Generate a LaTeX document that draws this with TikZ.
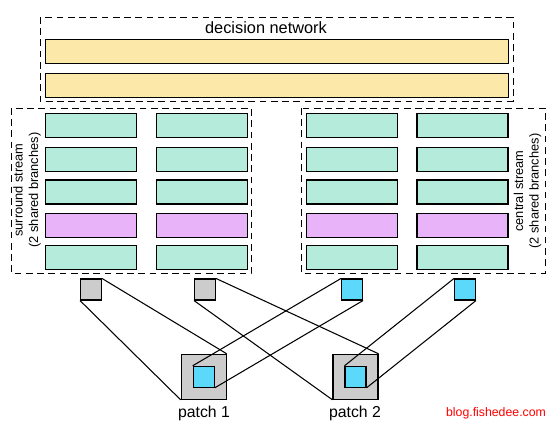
\documentclass[tikz,border=0pt]{standalone}
\usepackage{fontspec}
\setmainfont{Liberation Sans}
\definecolor{fcyellow}{HTML}{FCE8A8}
\definecolor{convgreen}{HTML}{B4EBDB}
\definecolor{convpink}{HTML}{E9B3F9}
\definecolor{patchblue}{HTML}{5CD8FB}
\definecolor{patchgray}{HTML}{CCCCCC}
\tikzset{
  bar/.style={draw, line width=0.6pt, fill=convgreen, minimum width=1.82cm, minimum height=0.48cm, inner sep=0pt},
  pinkbar/.style={bar, fill=convpink},
  fcbar/.style={bar, fill=fcyellow, minimum width=9.28cm},
  group/.style={draw, line width=0.5pt, dash pattern=on 3.8pt off 2.6pt},
  graysq/.style={draw, line width=0.6pt, fill=patchgray, minimum size=0.42cm, inner sep=0pt},
  bluesq/.style={graysq, fill=patchblue},
  patchbox/.style={graysq, minimum size=0.9cm},
  streamlabel/.style={rotate=90, align=center, font=\fontsize{7.3}{8.8}\selectfont},
  link/.style={line width=0.6pt}
}
\begin{document}
\begin{tikzpicture}[x=0.02cm,y=-0.02cm]
\useasboundingbox (0,0) rectangle (557,430);

% decision network
\draw[group] (40,17) rectangle (513,101);
\node[font=\fontsize{9.3}{11}\selectfont] (dn) at (266,28) {decision network};
\node[fcbar] (fc1) at (277,51.3) {};
\node[fcbar] (fc2) at (277,85.3) {};

% surround stream
\draw[group] (11,108) rectangle (251,273);
\node[streamlabel] (sl) at (27,190) {surround stream\\(2 shared branches)};
\node[bar] (sa1) at (91,125.3) {};
\node[bar] (sa2) at (91,159.3) {};
\node[bar] (sa3) at (91,192) {};
\node[pinkbar] (sa4) at (91,225.3) {};
\node[bar] (sa5) at (91,257.3) {};
\node[bar] (sb1) at (202,125.3) {};
\node[bar] (sb2) at (202,159.3) {};
\node[bar] (sb3) at (202,192) {};
\node[pinkbar] (sb4) at (202,225.3) {};
\node[bar] (sb5) at (202,257.3) {};

% central stream
\draw[group] (301,108) rectangle (545,273);
\node[streamlabel] (cl) at (527.5,191) {central stream\\(2 shared branches)};
\node[bar] (ca1) at (352,125.3) {};
\node[bar] (ca2) at (352,159.3) {};
\node[bar] (ca3) at (352,192) {};
\node[pinkbar] (ca4) at (352,225.3) {};
\node[bar] (ca5) at (352,257.3) {};
\node[bar] (cb1) at (462.5,125.3) {};
\node[bar] (cb2) at (462.5,159.3) {};
\node[bar] (cb3) at (462.5,192) {};
\node[pinkbar] (cb4) at (462.5,225.3) {};
\node[bar] (cb5) at (462.5,257.3) {};

% inputs
\node[graysq] (g1) at (91,289.5) {};
\node[graysq] (g2) at (205,289.5) {};
\node[bluesq] (b1) at (352,289.5) {};
\node[bluesq] (b2) at (465,289.5) {};

% patches
\node[patchbox] (p1) at (203.7,376.8) {};
\node[bluesq] (i1) at (203.7,376.8) {};
\node[patchbox] (p2) at (355.5,376.8) {};
\node[bluesq] (i2) at (355.5,376.8) {};
\node[font=\fontsize{9}{11}\selectfont] (t1) at (204,413) {patch 1};
\node[font=\fontsize{9}{11}\selectfont] (t2) at (355,413) {patch 2};
\node[font=\fontsize{7}{9}\selectfont, text=red] (url) at (496,413) {blog.fishedee.com};

\draw[link] (g1.north east) -- (p1.north east);
\draw[link] (g1.south west) -- (p1.south west);
\draw[link] (g2.north east) -- (p2.north east);
\draw[link] (g2.south west) -- (p2.south west);
\draw[link] (b1.north west) -- (i1.north west);
\draw[link] (b1.south east) -- (i1.south east);
\draw[link] (b2.north west) -- (i2.north west);
\draw[link] (b2.south east) -- (i2.south east);
\end{tikzpicture}
\end{document}
